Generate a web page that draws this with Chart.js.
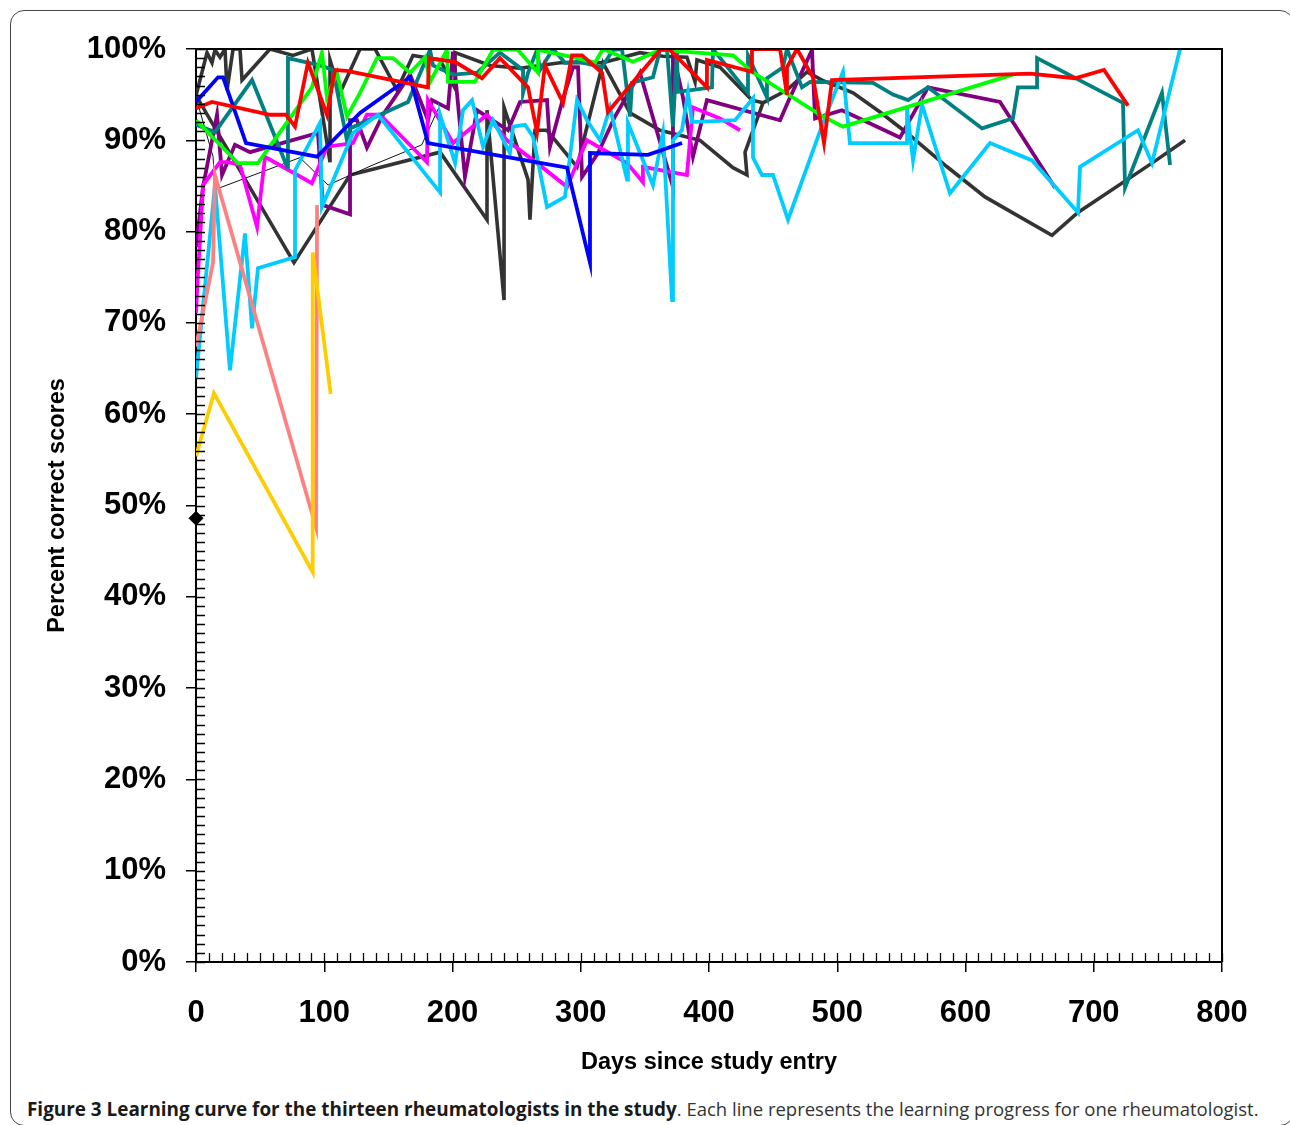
<!DOCTYPE html>
<html>
<head>
<meta charset="utf-8">
<script src="https://cdn.jsdelivr.net/npm/chart.js@4.4.0/dist/chart.umd.min.js"></script>
<style>
  html, body { margin:0; padding:0; background:#fff; width:1290px; height:1125px; overflow:hidden; }
  #frame { position:absolute; left:10px; top:10px; width:1284px; height:1116px; border:1.5px solid #444; border-radius:14px; box-sizing:border-box; }
  #wrap { position:absolute; left:0; top:0; width:1290px; height:1090px; }
  #caption { position:absolute; left:27px; top:1096px; font-family:"Open Sans", sans-serif; font-size:18.5px; color:#333; white-space:nowrap; }
  #caption b { color:#1a1a1a; font-size:18.9px; }
</style>
</head>
<body>
<div id="frame"></div>
<div id="wrap"><canvas id="c" width="1290" height="1090"></canvas></div>
<div id="caption"><b>Figure 3 Learning curve for the thirteen rheumatologists in the study</b>. Each line represents the learning progress for one rheumatologist.</div>
<script>
// ---- data: [days since study entry, percent correct] ----
const xTicks = [0,100,200,300,400,500,600,700,800];
const yTicks = [0,10,20,30,40,50,60,70,80,90,100];

const diamond = [[0,48.6]];
const red = [[0,93.5],[12.5,94.2],[57.7,92.8],[70.2,92.8],[77.2,91.5],[87.3,98.5],[102.1,92.8],[108.4,97.7],[117.7,97.6],[180.9,95.8],[181.7,99.0],[202.0,98.6],[223.0,96.8],[237.0,99.0],[258.9,95.8],[265.9,90.9],[272.1,98.2],[286.2,94.1],[293.2,99.3],[301.0,99.3],[316.6,97.4],[321.2,93.1],[361.8,99.9],[369.6,99.9],[398.4,95.8],[398.4,98.8],[433.5,97.5],[433.5,100],[455.4,100],[460.8,95.0],[460.8,98.0],[468.6,100],[481.1,96.9],[489.7,89.7],[495.9,96.6],[650.3,97.3],[685.4,96.8],[708.0,97.7],[726.7,93.8]];
const blue = [[0,94.2],[17.2,96.9],[21.1,96.9],[39.0,89.7],[94.3,88.2],[127.9,93.0],[166.9,96.9],[180.9,89.7],[289.3,87.0],[307.2,76.6],[307.2,88.6],[352.4,88.4],[379.0,89.7]];
const green = [[0,92.2],[32.7,87.5],[48.3,87.5],[90.4,95.8],[98.2,99.6],[102.1,94.7],[109.9,97.4],[117.7,92.6],[127.9,95.2],[141.1,99.0],[153.6,99.0],[166.9,97.4],[178.6,99.1],[182.5,96.4],[195.7,99.9],[196.5,96.4],[217.5,96.4],[231.6,99.9],[250.3,100],[266.7,97.4],[266.7,99.9],[294.0,99.1],[311.1,98.5],[317.3,100],[340.7,98.6],[361.8,99.9],[418.7,99.3],[433.5,97.5],[488.9,92.6],[504.5,91.5],[637.0,97.2]];
const gold = [[0,55.4],[14,62.3],[91,42.7],[91,77.7],[105,62.2]];
const salmon = [[0,67.4],[13.3,76.6],[14.8,86.2],[93.6,47.6],[94.4,82.9]];
const cyan = [[0,64.0],[14.8,85.1],[26.5,64.8],[38.2,79.8],[43.7,69.4],[48.3,76.0],[77.2,77.2],[77.2,86.7],[96.7,91.9],[98.2,82.7],[122.4,90.8],[141.9,92.8],[190.3,84.3],[190.3,92.8],[202.0,87.5],[208.2,93.3],[215.2,94.4],[223.8,89.3],[231.6,92.2],[244.8,88.6],[247.2,91.5],[256.5,91.7],[262.8,90.4],[273.7,82.7],[287.7,83.8],[297.1,94.4],[304.9,92.2],[315.0,90.0],[322.8,93.6],[336.1,85.7],[336.8,91.9],[356.3,85.1],[364.1,90.8],[371.2,72.5],[371.9,90.0],[378.9,91.1],[383.6,95.2],[386.7,92.0],[420.3,92.2],[434.3,94.6],[434.3,88.1],[441.3,86.2],[449.9,86.2],[461.6,81.3],[488.9,91.9],[504.5,97.5],[509.9,89.7],[554.4,89.7],[554.4,93.5],[559.1,87.8],[566.1,93.9],[587.9,84.2],[619.1,89.7],[651.9,87.8],[687.7,82.1],[689.3,87.1],[734.5,91.1],[745.4,87.5],[767.3,100]];
const teal = [[0,91.7],[14.8,90.9],[43.7,96.6],[71.0,87.1],[71.7,99.0],[96.7,98.2],[106.8,97.7],[117.7,90.0],[120.1,91.3],[165.3,94.2],[182.5,99.9],[184.8,98.2],[200.4,97.2],[219.1,97.4],[237.0,99.6],[255.0,97.7],[255.0,95.2],[258.9,97.4],[265.9,99.9],[268.2,97.7],[278.4,100],[287.7,98.5],[299.4,98.6],[316.6,98.0],[325.1,99.9],[332.2,100],[338.4,92.6],[340.0,96.3],[356.3,96.9],[361.8,99.9],[367.3,99.9],[371.9,91.5],[375.0,99.9],[375.8,95.3],[402.3,95.8],[403.1,100],[430.4,95.2],[430.4,99.3],[445.2,94.7],[445.2,96.8],[457.7,98.0],[460.8,100],[472.5,95.8],[478.8,96.4],[527.9,96.3],[543.5,95.0],[555.2,94.4],[570.8,95.8],[612.9,91.3],[637.0,92.4],[640.9,95.8],[655.8,95.8],[655.8,99.0],[722.8,94.1],[724.4,84.8],[753.2,95.2],[759.5,87.3]];
const magenta = [[0,71.1],[1,74.0],[5.5,85.1],[18.7,87.6],[25.0,87.6],[34.3,87.3],[47.6,80.5],[53.8,88.2],[90.4,85.3],[102.1,89.3],[122.4,89.7],[133.3,92.8],[143.5,92.8],[180.1,87.6],[180.9,94.4],[200.4,89.7],[226.9,92.8],[242.5,90.0],[265.9,87.5],[289.3,84.9],[297.1,87.5],[304.9,90.0],[336.1,87.5],[348.5,85.4],[348.5,87.1],[382.8,86.2],[387.5,93.6],[408.6,92.4],[424.2,91.1]];
const purple = [[0,78.3],[5.5,84.9],[16.4,92.8],[20.3,86.2],[30.4,89.5],[42.1,88.7],[95.1,90.8],[99.0,82.9],[120.1,81.9],[120.1,92.2],[125.5,92.2],[133.3,89.2],[145.8,92.8],[153.6,94.4],[166.9,97.2],[180.9,92.2],[184.0,94.4],[196.5,93.5],[200.4,99.7],[209.7,86.0],[219.1,93.3],[243.3,91.1],[252.6,94.2],[273.7,94.4],[276.0,89.3],[286.2,94.6],[294.0,98.0],[297.9,98.0],[301.0,86.0],[313.5,88.6],[326.7,92.6],[346.2,97.4],[371.9,84.9],[371.9,99.6],[379.7,94.7],[387.5,88.2],[398.4,94.4],[455.4,92.2],[461.6,94.2],[480.3,99.9],[482.7,92.4],[503.7,93.3],[548.9,90.3],[570.8,95.8],[626.9,94.2],[669.8,84.8]];
const thinBlack = [[0,94.7],[13.3,88.2],[14.8,84.6],[81,88.1],[103,85.1],[138,87.3],[176,89.5],[189,93.5]];
const darkA = [[0,94.9],[8.6,99.6],[12.5,98.5],[14.8,99.9],[18.7,99.1],[22.6,100],[24.2,95.5],[28.9,100],[34.3,100],[35.9,96.6],[57.7,100],[75.6,99.3],[90.4,100],[104.5,87.6],[104.5,98.8],[112.3,95.2],[127.9,100],[139.6,100],[156.7,95.5],[169.2,99.3],[190.3,98.8],[202.0,95.7],[202.0,99.6],[229.2,98.2],[252.6,97.9],[283.8,98.5],[317.3,98.5],[346.2,99.6],[364.1,99.2],[382.8,99.1],[389.1,96.4],[390.6,98.8],[408.6,98.0],[433.5,94.4],[442.1,94.1]];
const darkB = [[0,94.9],[76.4,76.6],[120.1,86.2],[190.3,88.7],[226.9,81.3],[226.9,93.3],[240.2,72.5],[240.2,93.6],[258.9,85.7],[260.4,81.3],[264.3,91.1],[273.7,91.1],[297.1,87.1],[317.3,98.5],[338.4,93.0],[361.8,91.1],[393.0,90.0],[418.7,87.0],[429.6,86.2],[428.1,88.7],[442.1,94.1],[460.8,95.5],[476.4,97.5],[488.1,96.6],[512.3,95.2],[533.3,93.1],[554.4,90.8],[585.6,87.1],[615.2,83.8],[667.4,79.6],[687.7,82.1],[745.4,87.5],[771.2,90.0]];

const pts = a => a.map(p => ({x:p[0], y:p[1]}));
const line = (data, color, w) => ({ data: pts(data), borderColor: color, backgroundColor: color, borderWidth: w, pointRadius: 0, fill: false, tension: 0, borderJoinStyle: 'miter' });

const datasets = [
  { data: pts(diamond), showLine:false, clip:false, pointStyle:'rectRot', pointRadius:7, borderWidth:1, backgroundColor:'#000', borderColor:'#000' },
  line(red, '#FF0000', 3.8),
  line(blue, '#0000FF', 3.8),
  line(green, '#00FF00', 3.8),
  line(gold, '#FFCC00', 3.8),
  line(salmon, '#FF8080', 3.8),
  line(cyan, '#00CCFF', 3.8),
  line(teal, '#008080', 3.8),
  line(magenta, '#FF00FF', 3.8),
  line(purple, '#800080', 3.8),
  line(thinBlack, '#111111', 1),
  line(darkA, '#333333', 3.6),
  line(darkB, '#333333', 3.6)
];

const frameTicks = {
  id: 'frameTicks',
  afterDraw(chart) {
    const {ctx, chartArea:a, scales:{x, y}} = chart;
    ctx.save();
    ctx.strokeStyle = '#000';
    ctx.lineWidth = 1.3;
    ctx.beginPath();
    for (let v = 0; v <= 100; v++) {
      const py = Math.round(y.getPixelForValue(v)) + 0.5;
      ctx.moveTo(a.left, py); ctx.lineTo(a.left + 9, py);
    }
    for (let d = 0; d <= 800; d += 10) {
      const px = Math.round(x.getPixelForValue(d)) + 0.5;
      ctx.moveTo(px, a.bottom); ctx.lineTo(px, a.bottom - 9);
    }
    ctx.stroke();
    ctx.lineWidth = 2;
    ctx.beginPath();
    ctx.moveTo(a.left, a.top); ctx.lineTo(a.right, a.top); ctx.lineTo(a.right, a.bottom);
    ctx.stroke();
    ctx.restore();
  }
};

const tickFont = { family: '"Liberation Sans", Arial, sans-serif', size: 31, weight: 'bold' };
const titleFont = { family: '"Liberation Sans", Arial, sans-serif', size: 23.5, weight: 'bold' };

new Chart(document.getElementById('c'), {
  type: 'line',
  data: { datasets },
  options: {
    responsive: false,
    animation: false,
    devicePixelRatio: 1,
    layout: { padding: { left: 0, top: 49, right: 68, bottom: 0 } },
    plugins: { legend: { display: false }, tooltip: { enabled: false } },
    scales: {
      x: {
        type: 'linear', min: 0, max: 800,
        afterBuildTicks: s => { s.ticks = xTicks.map(v => ({value: v})); },
        afterFit: s => { s.height = 128; },
        ticks: { color: '#000', font: tickFont, padding: 23, maxRotation: 0 },
        grid: { display: true, drawOnChartArea: false, drawTicks: true, tickLength: 10, color: '#000', lineWidth: 1.5 },
        border: { display: true, color: '#000', width: 2 },
        title: { display: true, text: 'Days since study entry', color: '#000', font: titleFont, padding: { top: 0, bottom: 13 } }
      },
      y: {
        type: 'linear', min: 0, max: 100,
        afterBuildTicks: s => { s.ticks = yTicks.map(v => ({value: v})); },
        afterFit: s => { s.width = 196; },
        ticks: { color: '#000', font: tickFont, padding: 20, callback: v => v + '%' },
        grid: { display: true, drawOnChartArea: false, drawTicks: true, tickLength: 10, color: '#000', lineWidth: 1.5 },
        border: { display: true, color: '#000', width: 2 },
        title: { display: true, text: 'Percent correct scores', color: '#000', font: titleFont, padding: { top: 43, bottom: 0 } }
      }
    }
  },
  plugins: [frameTicks]
});
</script>
</body>
</html>
